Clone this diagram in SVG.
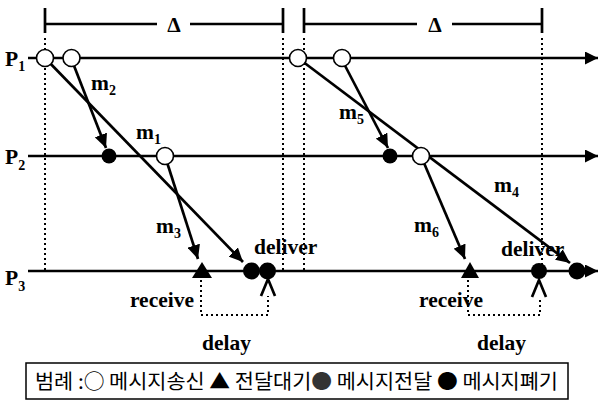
<svg xmlns="http://www.w3.org/2000/svg" width="600" height="405" viewBox="0 0 600 405">
<defs>
<style>
.axis{stroke:#000;stroke-width:2.7;fill:none}
.msg{stroke:#000;stroke-width:2.7;fill:none}
.dot{stroke:#000;stroke-width:2;stroke-dasharray:2 3;fill:none}
.brk{stroke:#000;stroke-width:2.7;fill:none}
.snd{fill:#fff;stroke:#000;stroke-width:1.6}
.blk{fill:#000}
.lbl{font-family:"Liberation Serif","Times New Roman",serif;font-weight:bold;font-size:21.5px;fill:#000}
.sub{font-size:14px}
.leg{font-family:"Noto Sans CJK KR","Noto Sans",sans-serif;font-size:20px;fill:#000}
</style>
<marker id="ah" markerUnits="userSpaceOnUse" markerWidth="15" markerHeight="13" refX="14" refY="6.5" orient="auto">
<path d="M0,0 L14,6.5 L0,13 z" fill="#000"/>
</marker>
<marker id="ax" markerUnits="userSpaceOnUse" markerWidth="13" markerHeight="13" refX="13" refY="6.5" orient="auto">
<path d="M0,0 L13,6.5 L0,13 z" fill="#000"/>
</marker>
</defs>
<rect width="600" height="405" fill="#fff"/>

<g id="intervals">
<path class="brk" d="M45,8 V33 M283,8 V33 M45,24 H157 M190,24 H283"/>
<text class="lbl" x="174" y="32" text-anchor="middle" font-size="25">Δ</text>
<path class="brk" d="M304,8 V33 M542,8 V33 M304,24 H417 M452,24 H542"/>
<text class="lbl" x="435" y="32" text-anchor="middle" font-size="25">Δ</text>
</g>

<g id="guides">
<path class="dot" d="M45,38 V271 M283,38 V271 M304,38 V271 M542,38 V271"/>
<path class="dot" d="M201,280 V315 H268 V296"/>
<path class="dot" d="M468,280 V315 H540 V297"/>
</g>

<g id="processes">
<g id="P1"><path class="axis" d="M28,58 H598" marker-end="url(#ax)"/>
<text class="lbl" x="5" y="66" font-size="23">P<tspan class="sub" dy="5">1</tspan></text></g>
<g id="P2"><path class="axis" d="M28,156 H598" marker-end="url(#ax)"/>
<text class="lbl" x="5" y="164" font-size="23">P<tspan class="sub" dy="6">2</tspan></text></g>
<g id="P3"><path class="axis" d="M28,271 H598" marker-end="url(#ax)"/>
<text class="lbl" x="5" y="285" font-size="23">P<tspan class="sub" dy="6">3</tspan></text></g>
</g>

<g id="connectors">
<path class="msg" d="M45,58 L243,262" marker-end="url(#ah)"/>
<path class="msg" d="M71,58 L106,148" marker-end="url(#ah)"/>
<path class="msg" d="M165,156 L198,259" marker-end="url(#ah)"/>
<path class="msg" d="M298,58 L570,263" marker-end="url(#ah)"/>
<path class="msg" d="M341,58 L388,148" marker-end="url(#ah)"/>
<path class="msg" d="M421,156 L465,259" marker-end="url(#ah)"/>
<path class="msg" stroke-width="3" d="M261,296 L268,279 L275,296"/>
<path class="msg" stroke-width="3" d="M532,297 L539,280 L546,297"/>
</g>

<g id="events">
<circle class="snd" cx="45" cy="58" r="8.5"/>
<circle class="snd" cx="71.5" cy="58" r="8.5"/>
<circle class="snd" cx="298" cy="58" r="8.5"/>
<circle class="snd" cx="342" cy="58" r="8.5"/>
<circle class="snd" cx="165" cy="156" r="8.5"/>
<circle class="snd" cx="421" cy="156" r="8.5"/>
<circle class="blk" cx="109" cy="156" r="7.5"/>
<circle class="blk" cx="390" cy="156" r="7.5"/>
<circle class="blk" cx="251.5" cy="271" r="8.5"/>
<circle class="blk" cx="267.5" cy="271" r="8.5"/>
<circle class="blk" cx="539" cy="271" r="8"/>
<circle class="blk" cx="577" cy="271" r="8.5"/>
<path class="blk" d="M202,262 L192,278 L212,278 z"/>
<path class="blk" d="M470,262 L461,278 L479,278 z"/>
</g>

<g id="labels">
<text class="lbl" x="91" y="90">m<tspan class="sub" dy="5">2</tspan></text>
<text class="lbl" x="136" y="139">m<tspan class="sub" dy="5">1</tspan></text>
<text class="lbl" x="156" y="233">m<tspan class="sub" dy="5">3</tspan></text>
<text class="lbl" x="339" y="119">m<tspan class="sub" dy="5">5</tspan></text>
<text class="lbl" x="494" y="192">m<tspan class="sub" dy="5">4</tspan></text>
<text class="lbl" x="414" y="232">m<tspan class="sub" dy="5">6</tspan></text>
<text class="lbl" x="254" y="254">deliver</text>
<text class="lbl" x="501" y="256">deliver</text>
<text class="lbl" x="194" y="307" text-anchor="end">receive</text>
<text class="lbl" x="419" y="307">receive</text>
<text class="lbl" x="202" y="350">delay</text>
<text class="lbl" x="477" y="350">delay</text>
</g>

<g id="legend">
<rect x="26" y="363" width="542" height="36" fill="#fff" stroke="#000" stroke-width="1.5"/>
<text class="leg" x="35" y="389" textLength="523" lengthAdjust="spacingAndGlyphs">범례 :○ 메시지송신 ▲ 전달대기<tspan fill="#333">●</tspan> 메시지전달 ● 메시지폐기</text>
</g>
</svg>
